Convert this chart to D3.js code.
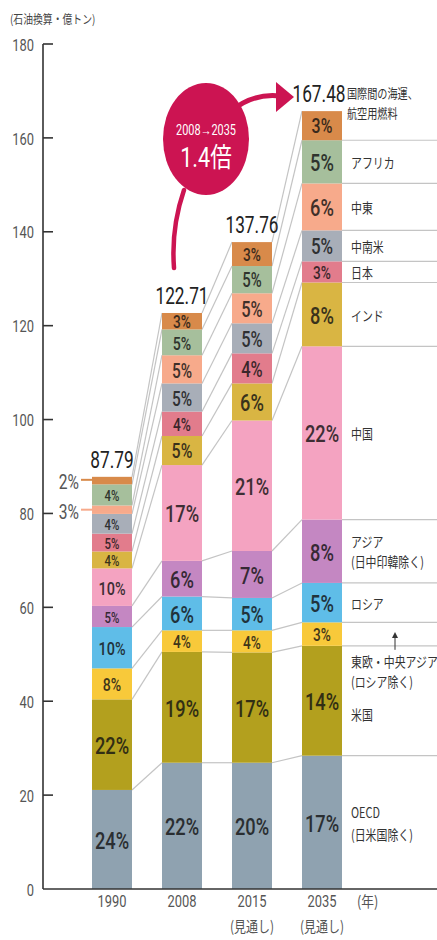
<!DOCTYPE html>
<html><head><meta charset="utf-8">
<script src="https://cdn.jsdelivr.net/npm/d3@7"></script>
<style>body{margin:0;background:#fff}svg{display:block}</style>
</head><body><svg id="c" width="437" height="940"></svg>
<script>
// ---------- data ----------
const years = ["1990", "2008", "2015", "2035"];
const yearNotes = ["", "", "(見通し)", "(見通し)"];
const totals = [87.79, 122.71, 137.76, 167.48];
const regionNames = ["OECD(日米国除く)", "米国", "東欧・中央アジア(ロシア除く)", "ロシア", "アジア(日中印韓除く)", "中国", "インド", "日本", "中南米", "中東", "アフリカ", "国際間の海運、航空用燃料"];
const regionLabelLines = [["OECD", "(日米国除く)"], ["米国"], ["東欧・中央アジア", "(ロシア除く)"], ["ロシア"], ["アジア", "(日中印韓除く)"], ["中国"], ["インド"], ["日本"], ["中南米"], ["中東"], ["アフリカ"], ["国際間の海運、", "航空用燃料"]];
const colors = ["#8fa2b0", "#b3a01e", "#f8c93a", "#5fbde8", "#c487c2", "#f4a3c1", "#d9b543", "#e27c8c", "#a8aeb8", "#f7aa8b", "#a6bf9c", "#d88a4a"];
const values1990 = [21.1, 19.3, 6.6, 8.8, 4.5, 8.0, 3.6, 3.8, 4.2, 1.8, 4.5, 1.6];
const values2008 = [26.9, 23.6, 4.6, 7.2, 7.6, 20.4, 6.2, 5.2, 6.0, 6.0, 5.5, 3.5];
const values2015 = [26.9, 23.5, 4.7, 6.9, 10.0, 27.8, 7.9, 6.4, 6.4, 6.4, 5.8, 5.1];
const values2035 = [28.4, 23.4, 5.0, 8.4, 13.5, 36.9, 13.6, 4.5, 6.6, 10.0, 9.2, 6.2];
const pct1990 = ["24%", "22%", "8%", "10%", "5%", "10%", "4%", "5%", "4%", "3%", "4%", "2%"];
const pct2008 = ["22%", "19%", "4%", "6%", "6%", "17%", "5%", "4%", "5%", "5%", "5%", "3%"];
const pct2015 = ["20%", "17%", "4%", "5%", "7%", "21%", "6%", "4%", "5%", "5%", "5%", "3%"];
const pct2035 = ["17%", "14%", "3%", "5%", "8%", "22%", "8%", "3%", "5%", "6%", "5%", "3%"];
const yTicks = [0, 20, 40, 60, 80, 100, 120, 140, 160, 180];
const yUnit = "(石油換算・億トン)";
const xUnit = "(年)";
const bubbleTop = "2008→2035";
const bubbleMain = "1.4倍";

// ---------- setup ----------
const NUM = "Roboto, 'Liberation Sans', sans-serif";
const JP = "'Noto Sans CJK JP', 'Noto Sans', sans-serif";
const svg = d3.select("#c");
const allValues = [values1990, values2008, values2015, values2035];
const allPct = [pct1990, pct2008, pct2015, pct2035];
const rows = years.map((yr, i) => {
  const r = { year: yr };
  regionNames.forEach((n, k) => r[n] = allValues[i][k]);
  return r;
});
const series = d3.stack().keys(regionNames)(rows);

const x = d3.scaleBand().domain(years).range([77, 357]).paddingInner(30 / 70).paddingOuter(15 / 70);
const y = d3.scaleLinear().domain([0, 180]).range([889, 44]);
const bw = x.bandwidth();

function ctext(parent, px, py, txt, o) {
  return parent.append("text")
    .attr("transform", `translate(${px},${py}) scale(${o.sx || 1},1)`)
    .attr("text-anchor", o.anchor || "middle")
    .attr("dominant-baseline", "central")
    .style("font-family", o.family || NUM)
    .style("font-size", o.size + "px")
    .style("font-weight", o.weight || 400)
    .style("fill", o.fill || "#333")
    .text(txt);
}

// ---------- connector lines ----------
const conn = svg.append("g").attr("fill", "none").attr("stroke", "#c4c4c4").attr("stroke-width", 1.2);
series.forEach(s => {
  for (let i = 0; i < years.length - 1; i++) {
    conn.append("line")
      .attr("x1", x(years[i]) + bw).attr("y1", y(s[i][1]))
      .attr("x2", x(years[i + 1])).attr("y2", y(s[i + 1][1]));
  }
});
const last = years.length - 1;
series.forEach((s, k) => {
  if (k === series.length - 1) return;
  conn.append("line")
    .attr("x1", x(years[last]) + bw).attr("y1", y(s[last][1]))
    .attr("x2", 437).attr("y2", y(s[last][1]));
});

// ---------- bars ----------
const barG = svg.append("g");
series.forEach((s, k) => {
  barG.selectAll(null).data(s).enter().append("rect")
    .attr("x", d => x(d.data.year))
    .attr("y", d => y(d[1]))
    .attr("width", bw)
    .attr("height", d => y(d[0]) - y(d[1]))
    .attr("fill", colors[k]);
});

// ---------- percentage labels ----------
const lblG = svg.append("g");
series.forEach((s, k) => {
  s.forEach((d, i) => {
    const txt = allPct[i][k];
    const yc = (y(d[0]) + y(d[1])) / 2;
    const h = y(d[0]) - y(d[1]);
    const fill = d3.interpolateRgb(colors[k], "#111")(0.8);
    if (i === 0 && (k === 9 || k === 11)) {
      const ly = k === 11 ? y(d[1]) + 3 : yc;
      svg.append("line").attr("x1", 81).attr("x2", k === 11 ? 98 : 110)
        .attr("y1", ly).attr("y2", ly).attr("stroke", colors[k]).attr("stroke-width", 2);
      ctext(lblG, 79, ly + 2, txt, { size: 20, sx: 0.78, anchor: "end", fill: "#555" });
      return;
    }
    let fs;
    if (i === 0) fs = k < 2 ? 24 : Math.max(15, Math.min(19, h * 0.6));
    else fs = Math.max(18, Math.min(24, h * 0.72));
    ctext(lblG, x(d.data.year) + bw / 2, yc + 1, txt, { size: fs, sx: 0.76, fill, weight: 500 });
  });
});

// ---------- totals ----------
totals.forEach((t, i) => {
  ctext(svg, x(years[i]) + bw / 2 + (i === 3 ? -3 : 0), y(series[series.length - 1][i][1]) - 17, t.toFixed(2), { size: 24, sx: 0.72, fill: "#222" });
});

// ---------- axes ----------
const axG = svg.append("g");
axG.append("line").attr("x1", 43).attr("x2", 43).attr("y1", y(180)).attr("y2", y(0)).attr("stroke", "#333").attr("stroke-width", 1.6);
axG.append("line").attr("x1", 43).attr("x2", 437).attr("y1", y(0)).attr("y2", y(0)).attr("stroke", "#333").attr("stroke-width", 1.6);
yTicks.forEach(t => {
  if (t > 0) axG.append("line").attr("x1", 43).attr("x2", 53).attr("y1", y(t)).attr("y2", y(t)).attr("stroke", "#333").attr("stroke-width", 1.6);
  ctext(axG, 34, y(t) + 1, String(t), { size: 17, sx: 0.76, anchor: "end", fill: "#555" });
});
ctext(axG, 10, 19, yUnit, { size: 12, sx: 0.82, anchor: "start", family: JP, fill: "#444" });
years.forEach((yr, i) => {
  const cx = x(yr) + bw / 2;
  ctext(axG, cx, 901, yr, { size: 17, sx: 0.76, fill: "#555" });
  if (yearNotes[i]) ctext(axG, cx, 925, yearNotes[i], { size: 15, sx: 0.8, family: JP, fill: "#555" });
});
ctext(axG, 357, 901, xUnit, { size: 15, sx: 0.85, anchor: "start", family: JP, fill: "#555" });

// ---------- region labels (right) ----------
const lx = x(years[last]) + bw + 9;
series.forEach((s, k) => {
  const d = s[last];
  const lines = regionLabelLines[k];
  const yc = (y(d[0]) + y(d[1])) / 2;
  let y0;
  if (k === 11) y0 = y(d[1]) - 19;
  else if (k === 2) y0 = y(series[1][last][1]) + 15;
  else if (k === 1) y0 = yc + 13;
  else y0 = yc - (lines.length - 1) * 10;
  const sp = k === 11 ? 20 : (k === 0 ? 22 : 20);
  lines.forEach((ln, j) => {
    ctext(svg, k === 11 ? lx - 4 : lx, y0 + j * sp, ln, { size: k === 11 ? 13 : 14, sx: 0.78, anchor: "start", family: JP, fill: "#333" });
  });
});
{
  const ax = 395, top = (y(series[2][last][0]) + y(series[2][last][1])) / 2 - 2, bot = y(series[1][last][1]) + 4;
  svg.append("line").attr("x1", ax).attr("x2", ax).attr("y1", top + 4).attr("y2", bot).attr("stroke", "#333").attr("stroke-width", 1);
  svg.append("path").attr("d", `M${ax - 3},${top + 6}L${ax},${top}L${ax + 3},${top + 6}Z`).attr("fill", "#333");
}

// ---------- bubble ----------
const red = "#cc1452";
const bg = svg.append("g");
bg.append("path").attr("d", "M184,190 Q171,228 174,268").attr("fill", "none").attr("stroke", red).attr("stroke-width", 4.5).attr("stroke-linecap", "round");
bg.append("path").attr("d", "M230,112 Q252,93 280,96").attr("fill", "none").attr("stroke", red).attr("stroke-width", 5);
bg.append("path").attr("d", "M276,82 L294,97 L276,112 Z").attr("fill", red);
bg.append("ellipse").attr("cx", 206).attr("cy", 139).attr("rx", 43).attr("ry", 56).attr("fill", red);
ctext(bg, 206, 130, bubbleTop, { size: 14, sx: 0.78, fill: "#fff" });
ctext(bg, 206, 158, bubbleMain, { size: 27, sx: 0.8, fill: "#fff", family: "Roboto, 'Noto Sans CJK JP', sans-serif" });
</script></body></html>
